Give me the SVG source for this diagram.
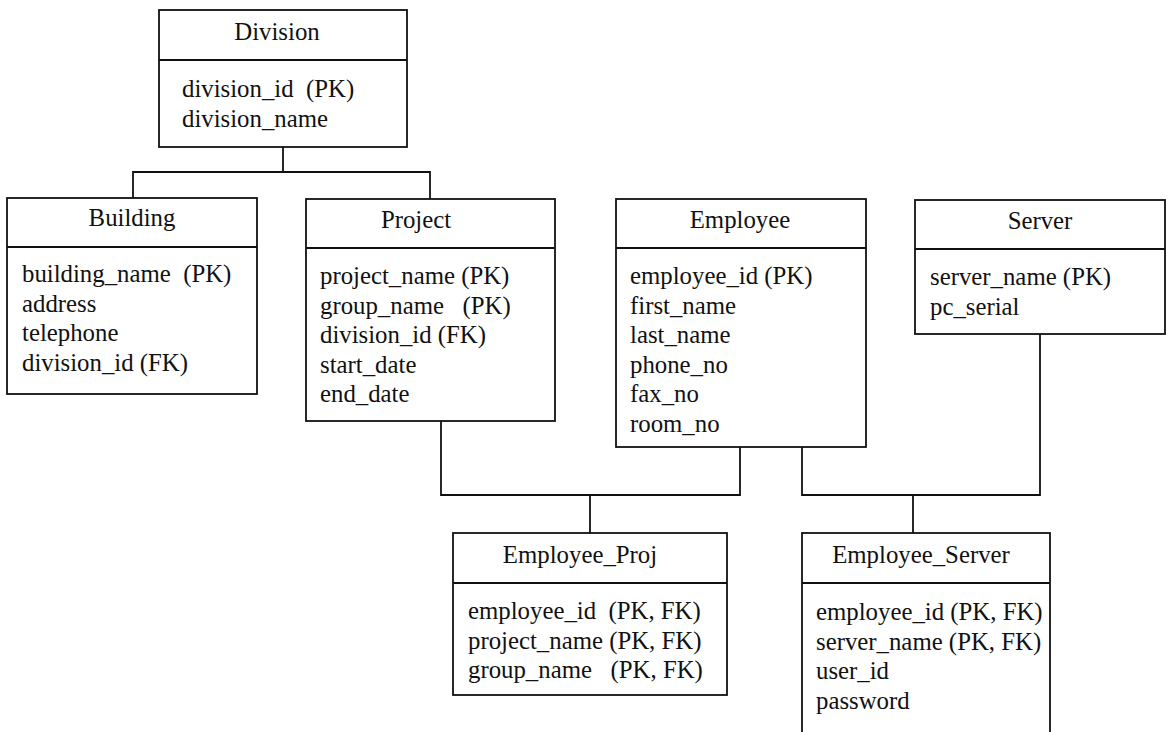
<svg xmlns="http://www.w3.org/2000/svg" width="1167" height="732" viewBox="0 0 1167 732">
<style>
.box{fill:#ffffff;stroke:#111111;stroke-width:1.8}
.ln{fill:none;stroke:#111111;stroke-width:1.8}
text{font-family:"Liberation Serif","Times New Roman",serif;font-size:24.8px;fill:#111111;white-space:pre}
.t{text-anchor:middle}
</style>
<rect x="0" y="0" width="1167" height="732" fill="#ffffff"/>
<g id="connectors">
<polyline class="ln" points="283,147 283,172"/>
<polyline class="ln" points="133,198 133,172 430,172 430,199"/>
<polyline class="ln" points="441,421 441,495 740,495 740,447"/>
<polyline class="ln" points="590,495 590,533"/>
<polyline class="ln" points="802,447 802,495 1040,495 1040,334"/>
<polyline class="ln" points="913,495 913,533"/>
</g>
<g font-family="Liberation Serif, serif">
<g id="division">
<rect class="box" x="159" y="10" width="248" height="137"/>
<line class="ln" x1="159" y1="60" x2="407" y2="60"/>
<text class="t" x="277" y="40">Division</text>
<text x="182" y="97" xml:space="preserve">division_id  (PK)</text>
<text x="182" y="127">division_name</text>
</g>
<g id="building">
<rect class="box" x="7" y="198" width="250" height="196"/>
<line class="ln" x1="7" y1="247" x2="257" y2="247"/>
<text class="t" x="132" y="226">Building</text>
<text x="22" y="282" xml:space="preserve">building_name  (PK)</text>
<text x="22" y="311.5">address</text>
<text x="22" y="341">telephone</text>
<text x="22" y="370.5">division_id (FK)</text>
</g>
<g id="project">
<rect class="box" x="306" y="199" width="249" height="222"/>
<line class="ln" x1="306" y1="248" x2="555" y2="248"/>
<text class="t" x="416" y="228">Project</text>
<text x="320" y="284">project_name (PK)</text>
<text x="320" y="313.5" xml:space="preserve">group_name   (PK)</text>
<text x="320" y="343">division_id (FK)</text>
<text x="320" y="372.5">start_date</text>
<text x="320" y="402">end_date</text>
</g>
<g id="employee">
<rect class="box" x="616" y="199" width="250" height="248"/>
<line class="ln" x1="616" y1="248" x2="866" y2="248"/>
<text class="t" x="740" y="228">Employee</text>
<text x="630" y="284">employee_id (PK)</text>
<text x="630" y="313.5">first_name</text>
<text x="630" y="343">last_name</text>
<text x="630" y="372.5">phone_no</text>
<text x="630" y="402">fax_no</text>
<text x="630" y="431.5">room_no</text>
</g>
<g id="server">
<rect class="box" x="915" y="200" width="250" height="134"/>
<line class="ln" x1="915" y1="249" x2="1165" y2="249"/>
<text class="t" x="1040" y="229">Server</text>
<text x="930" y="285">server_name (PK)</text>
<text x="930" y="314.5">pc_serial</text>
</g>
<g id="employee_proj">
<rect class="box" x="453" y="533" width="274" height="162"/>
<line class="ln" x1="453" y1="583" x2="727" y2="583"/>
<text class="t" x="580" y="563">Employee_Proj</text>
<text x="468" y="619" xml:space="preserve">employee_id  (PK, FK)</text>
<text x="468" y="648.5">project_name (PK, FK)</text>
<text x="468" y="678" xml:space="preserve">group_name   (PK, FK)</text>
</g>
<g id="employee_server">
<rect class="box" x="802" y="533" width="248" height="205"/>
<line class="ln" x1="802" y1="583" x2="1050" y2="583"/>
<text class="t" x="921" y="563">Employee_Server</text>
<text x="816" y="620">employee_id (PK, FK)</text>
<text x="816" y="649.5">server_name (PK, FK)</text>
<text x="816" y="679">user_id</text>
<text x="816" y="708.5">password</text>
</g>
</g>
</svg>
